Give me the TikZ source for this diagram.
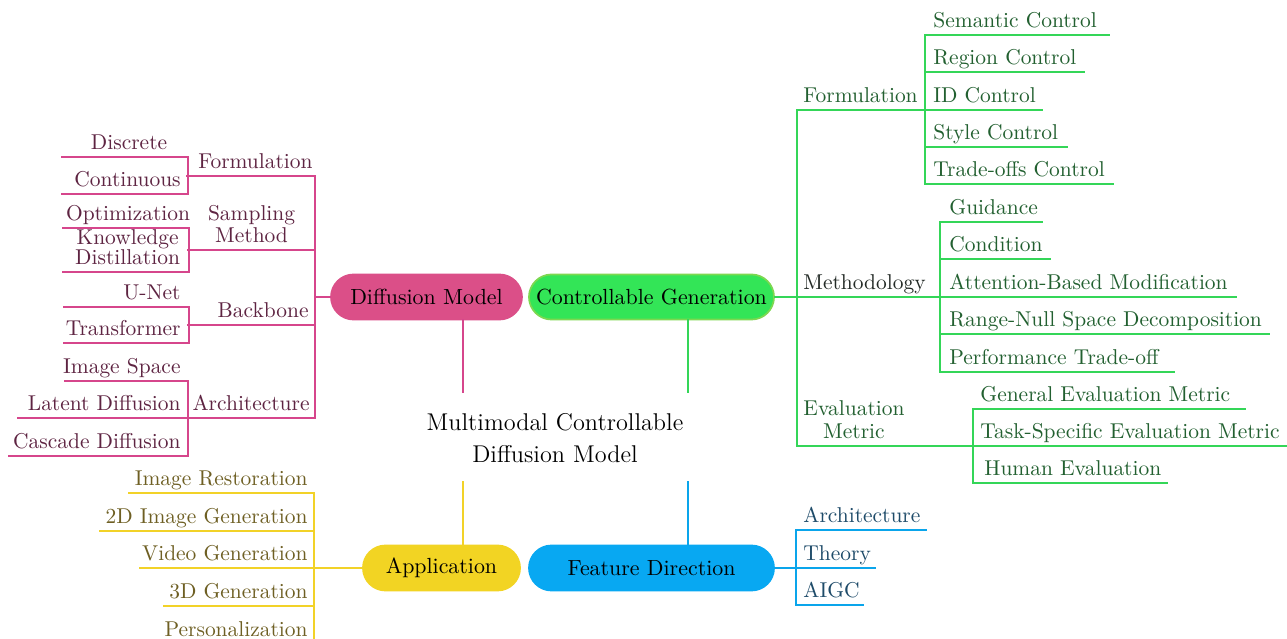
\documentclass[tikz,border=0pt]{standalone}
\usetikzlibrary{shapes.misc}
\newdimen\pxu \pxu=0.466pt
\newcommand\TwoLn[3]{\vbox{\baselineskip=#1\lineskiplimit=-\maxdimen\lineskip=0pt\halign{\hfil##\hfil\cr#2\cr#3\cr}}}
\newcommand\RBx[3]{\makebox[#1\pxu][r]{#3\hspace*{#2\pxu}}}
\newcommand\LBx[3]{\makebox[#1\pxu][l]{\hspace*{#2\pxu}#3}}
\newcommand\CBx[3]{\makebox[#1\pxu][c]{\hspace*{#2\pxu}#3}}
\definecolor{pinkL}{RGB}{214,70,140}
\definecolor{pinkF}{RGB}{219,79,136}
\definecolor{pinkT}{RGB}{94,36,66}
\definecolor{greenL}{RGB}{52,214,88}
\definecolor{greenF}{RGB}{51,229,87}
\definecolor{greenB}{RGB}{125,216,80}
\definecolor{greenT}{RGB}{34,96,48}
\definecolor{darkT}{RGB}{35,42,38}
\definecolor{yellowL}{RGB}{242,210,40}
\definecolor{yellowF}{RGB}{242,212,35}
\definecolor{yellowT}{RGB}{110,95,35}
\definecolor{blueL}{RGB}{10,165,235}
\definecolor{blueF}{RGB}{8,168,242}
\definecolor{blueT}{RGB}{30,75,105}
\begin{document}
\begin{tikzpicture}[x=0.466pt,y=-0.466pt,
  item/.style={inner xsep=0pt, inner ysep=3.4pt, text depth=0pt, font=\fontsize{10}{12}\selectfont},
  pk/.style={item, text=pinkT, anchor=south east},
  gr/.style={item, text=greenT, anchor=south west},
  yl/.style={item, text=yellowT, anchor=south east},
  bl/.style={item, text=blueT, anchor=south west},
  pill/.style={rounded rectangle, minimum height=21pt, inner sep=0pt, text=black, line width=0.8pt, font=\fontsize{10.2}{12}\selectfont},
  ln/.style={line width=1.05pt, line cap=rect},
  pkline/.style={ln, draw=pinkL},
  grline/.style={ln, draw=greenL},
  ylline/.style={ln, draw=yellowL},
  blline/.style={ln, draw=blueL}]
\fill[white] (0,0) rectangle (1287,639);
\useasboundingbox (0,0) rectangle (1287,639);

% root
\node[font=\fontsize{11.3}{15}\selectfont, align=center] (root) at (555,438) {Multimodal Controllable\\Diffusion Model};
\coordinate (rootNW) at (463,392);
\coordinate (rootNE) at (688,392);
\coordinate (rootSW) at (463,482);
\coordinate (rootSE) at (688,482);

% main pills
\node[pill, fill=pinkF, draw=pinkF, minimum width=89pt] (dm) at (426.5,297) {Diffusion Model};
\node[pill, fill=greenF, draw=greenB, minimum width=114.2pt] (cg) at (651.5,297) {Controllable Generation};
\node[pill, fill=yellowF, draw=yellowF, minimum width=73.2pt] (app) at (441.5,568) {Application};
\node[pill, fill=blueF, draw=blueF, minimum width=114.2pt] (fd) at (651.5,568) {Feature Direction};

% pink branch
\node[pk] (pF) at (315,176) {\RBx{127}{2}{Formulation}};
\node[pk] (pS) at (315,250) {\CBx{126}{0}{\TwoLn{10.3pt}{Sampling}{Method}}};
\node[pk] (pB) at (315,325) {\RBx{126}{6}{Backbone}};
\node[pk] (pA) at (315,418) {\RBx{126}{5}{Architecture}};
\node[pk] (pF1) at (188,157) {\CBx{125}{8}{Discrete}};
\node[pk] (pF2) at (188,194) {\CBx{125}{5}{Continuous}};
\node[pk] (pS1) at (189,228) {\CBx{125}{4}{Optimization}};
\node[pk] (pS2) at (189,272) {\CBx{125}{3}{\TwoLn{9pt}{Knowledge}{Distillation}}};
\node[pk] (pB1) at (189,307) {\RBx{124}{8}{U-Net}};
\node[pk] (pB2) at (189,343) {\RBx{124}{8}{Transformer}};
\node[pk] (pA1) at (188,381) {\RBx{122}{7}{Image Space}};
\node[pk] (pA2) at (188,418) {\RBx{169}{7}{Latent Diffusion}};
\node[pk] (pA3) at (188,456) {\RBx{178}{7}{Cascade Diffusion}};

% green branch
\node[gr] (gF) at (797,110) {\LBx{128}{6}{Formulation}};
\node[gr, text=darkT] (gM) at (797,297) {\LBx{143}{6}{Methodology}};
\node[gr] (gE) at (797,446) {\LBx{176}{6}{\TwoLn{10.7pt}{Evaluation}{Metric}}};
\node[gr] (gF1) at (925,35) {\LBx{183}{8}{Semantic Control}};
\node[gr] (gF2) at (925,72) {\LBx{158}{8}{Region Control}};
\node[gr] (gF3) at (925,110) {\LBx{116}{8}{ID Control}};
\node[gr] (gF4) at (925,147) {\LBx{141}{8}{Style Control}};
\node[gr] (gF5) at (925,184) {\LBx{187}{8}{Trade-offs Control}};
\node[gr] (gM1) at (940,222) {\LBx{101}{9}{Guidance}};
\node[gr] (gM2) at (940,259) {\LBx{109}{9}{Condition}};
\node[gr] (gM3) at (940,297) {\LBx{295}{9}{Attention-Based Modification}};
\node[gr] (gM4) at (940,334) {\LBx{328}{9}{Range-Null Space Decomposition}};
\node[gr] (gM5) at (940,372) {\LBx{233}{9}{Performance Trade-off}};
\node[gr] (gE1) at (973,409) {\LBx{271}{7}{General Evaluation Metric}};
\node[gr] (gE2) at (973,446) {\LBx{314}{7}{Task-Specific Evaluation Metric}};
\node[gr] (gE3) at (973,483) {\LBx{193}{11}{Human Evaluation}};

% blue branch
\node[bl] (bA) at (796,530) {\LBx{129}{7}{Architecture}};
\node[bl] (bT) at (796,568) {\LBx{78}{7}{Theory}};
\node[bl] (bG) at (796,605) {\LBx{66}{7}{AIGC}};

% yellow branch
\node[yl] (y1) at (314,493) {\RBx{184}{6}{Image Restoration}};
\node[yl] (y2) at (314,531) {\RBx{213}{6}{2D Image Generation}};
\node[yl] (y3) at (314,568) {\RBx{173}{6}{Video Generation}};
\node[yl] (y4) at (314,606) {\RBx{149}{6}{3D Generation}};
\node[yl] (y5) at (314,644) {\RBx{154}{6}{Personalization}};

% underlines
\foreach \n in {pF,pS,pB,pA,pF1,pF2,pS1,pS2,pB1,pB2,pA1,pA2,pA3}
  \draw[pkline] (\n.south west) -- (\n.south east);
\foreach \n in {gF,gM,gE,gF1,gF2,gF3,gF4,gF5,gM1,gM2,gM3,gM4,gM5,gE1,gE2,gE3}
  \draw[grline] (\n.south west) -- (\n.south east);
\foreach \n in {bA,bT,bG}
  \draw[blline] (\n.south west) -- (\n.south east);
\foreach \n in {y1,y2,y3,y4,y5}
  \draw[ylline] (\n.south west) -- (\n.south east);

% pink connectors
\draw[pkline] (dm.west) -- (dm.west -| pF.south east);
\draw[pkline] (pF.south east) -- (pA.south east);
\draw[pkline] (pF1.south east) -- (pF2.south east);
\draw[pkline] (pS1.south east) -- (pS2.south east);
\draw[pkline] (pB1.south east) -- (pB2.south east);
\draw[pkline] (pA1.south east) -- (pA3.south east);

% green connectors
\draw[grline] (cg.east) -- (cg.east -| gM.south west);
\draw[grline] (gF.south west) -- (gE.south west);
\draw[grline] (gF1.south west) -- (gF5.south west);
\draw[grline] (gM1.south west) -- (gM5.south west);
\draw[grline] (gE1.south west) -- (gE3.south west);

% blue connectors
\draw[blline] (fd.east) -- (fd.east -| bT.south west);
\draw[blline] (bA.south west) -- (bG.south west);

% yellow connectors
\draw[ylline] (app.west) -- (app.west -| y3.south east);
\draw[ylline] (y1.south east) -- (y5.south east);

% root connectors
\draw[pkline] (rootNW) -- (rootNW |- dm.south);
\draw[grline] (rootNE) -- (rootNE |- cg.south);
\draw[ylline] (rootSW) -- (rootSW |- app.north);
\draw[blline] (rootSE) -- (rootSE |- fd.north);
\end{tikzpicture}
\end{document}
